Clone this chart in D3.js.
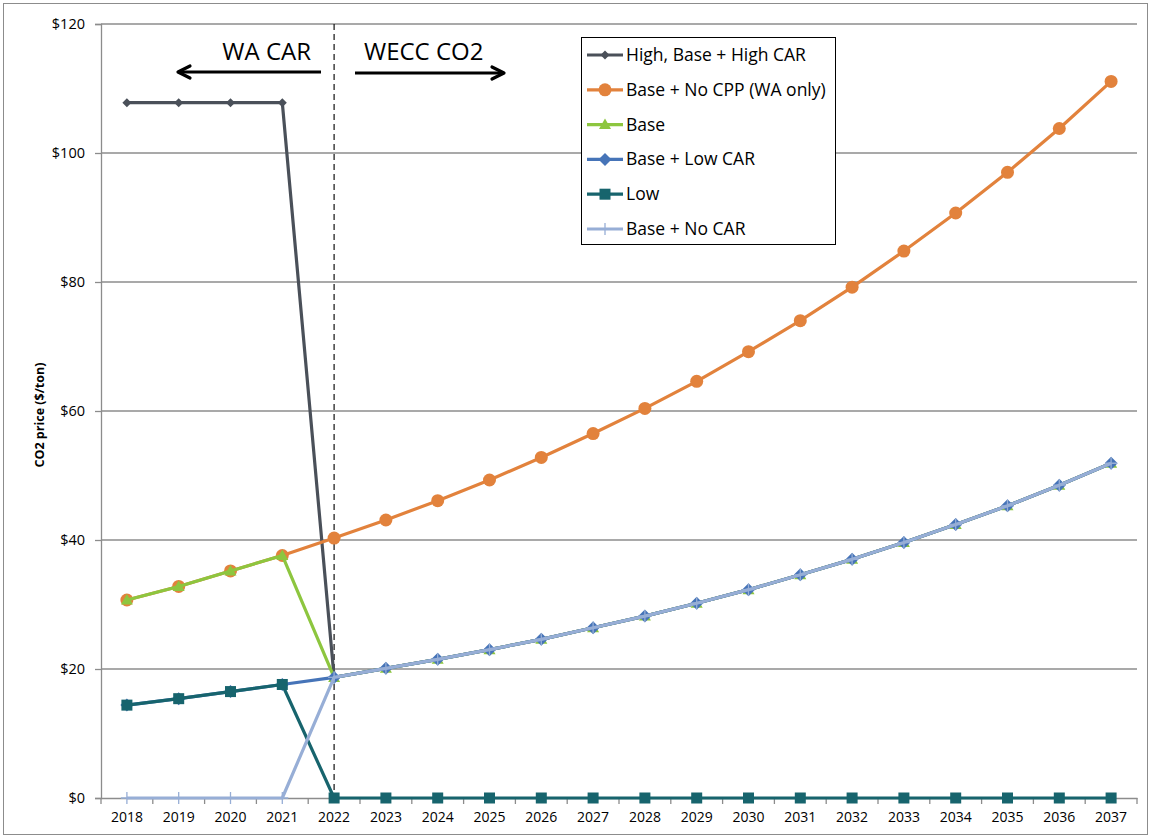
<!DOCTYPE html>
<html><head><meta charset="utf-8">
<script src="https://cdn.jsdelivr.net/npm/d3@7"></script>
<style>body{margin:0;background:#fff;} svg{display:block;}</style>
</head><body>
<script>
const years = ["2018","2019","2020","2021","2022","2023","2024","2025","2026","2027","2028","2029","2030","2031","2032","2033","2034","2035","2036","2037"];
const yTicks = [0,20,40,60,80,100,120];
const highCAR   = [107.8,107.8,107.8,107.8,18.7,20.1,21.5,23.0,24.6,26.4,28.2,30.2,32.3,34.6,37.0,39.6,42.4,45.3,48.5,51.9];
const noCPP     = [30.7,32.8,35.2,37.6,40.3,43.1,46.1,49.3,52.8,56.5,60.4,64.6,69.2,74.0,79.2,84.8,90.7,97.0,103.8,111.1];
const base      = [30.7,32.8,35.2,37.6,18.7,20.1,21.5,23.0,24.6,26.4,28.2,30.2,32.3,34.6,37.0,39.6,42.4,45.3,48.5,51.9];
const baseLowCAR= [14.4,15.4,16.5,17.6,18.7,20.1,21.5,23.0,24.6,26.4,28.2,30.2,32.3,34.6,37.0,39.6,42.4,45.3,48.5,51.9];
const low       = [14.4,15.4,16.5,17.6,0,0,0,0,0,0,0,0,0,0,0,0,0,0,0,0];
const baseNoCAR = [0,0,0,0,18.7,20.1,21.5,23.0,24.6,26.4,28.2,30.2,32.3,34.6,37.0,39.6,42.4,45.3,48.5,51.9];

const series = [
  {name:"High, Base + High CAR", values:highCAR, color:"#4a5059", marker:"diamondSmall"},
  {name:"Base + No CPP (WA only)", values:noCPP, color:"#e2823c", marker:"circle"},
  {name:"Base", values:base, color:"#8dc63f", marker:"triangle"},
  {name:"Base + Low CAR", values:baseLowCAR, color:"#4674b8", marker:"diamond"},
  {name:"Low", values:low, color:"#17646d", marker:"square"},
  {name:"Base + No CAR", values:baseNoCAR, color:"#97aed6", marker:"plus"}
];

const W=1151,H=838;
const svg=d3.select("body").append("svg").attr("width",W).attr("height",H);
const font="'Open Sans', 'Noto Sans', sans-serif";

svg.append("rect").attr("x",3.5).attr("y",3.5).attr("width",1144).attr("height",831)
  .attr("fill","#fff").attr("stroke","#8c8c8c");

const pL=101,pR=1137,pT=24,pB=798;
const x=d3.scaleBand().domain(years).range([pL,pR]);
const y=d3.scaleLinear().domain([0,120]).range([pB,pT]);
const cx=d=>x(d)+x.bandwidth()/2;

// gridlines
svg.append("g").selectAll("line").data(yTicks.filter(t=>t>0)).join("line")
  .attr("x1",pL).attr("x2",pR).attr("y1",d=>y(d)).attr("y2",d=>y(d))
  .attr("stroke","#8c8c8c").attr("stroke-width",1.3);

// y axis
const ya=svg.append("g").attr("transform",`translate(${pL},0)`)
  .call(d3.axisLeft(y).tickValues(yTicks).tickFormat(d=>"$"+d).tickSize(6).tickPadding(10));
ya.select(".domain").attr("stroke","#8c8c8c").attr("stroke-width",1.3);
ya.selectAll(".tick line").attr("stroke","#8c8c8c").attr("stroke-width",1.3);
ya.selectAll("text").attr("font-family",font).attr("font-size",14.5).attr("fill","#000");

// x axis
const xa=svg.append("g").attr("transform",`translate(0,${pB})`)
  .call(d3.axisBottom(x).tickSize(0).tickPadding(14));
xa.select(".domain").attr("stroke","#8c8c8c").attr("stroke-width",1.3);
xa.selectAll("text").attr("font-family",font).attr("font-size",14).attr("fill","#000");
svg.append("g").selectAll("line").data(years.concat(["end"])).join("line")
  .attr("x1",(d,i)=>pL+i*x.bandwidth()).attr("x2",(d,i)=>pL+i*x.bandwidth())
  .attr("y1",pB).attr("y2",pB+6).attr("stroke","#8c8c8c").attr("stroke-width",1.3);

// y label
svg.append("text").attr("transform",`translate(44,415) rotate(-90)`)
  .attr("text-anchor","middle").attr("font-family",font).attr("font-weight","bold")
  .attr("font-size",12.5).text("CO2 price ($/ton)");

// dashed divider at 2022
svg.append("line").attr("x1",cx("2022")).attr("x2",cx("2022")).attr("y1",pT).attr("y2",pB)
  .attr("stroke","#111").attr("stroke-width",1.2).attr("stroke-dasharray","6,4");

// series
function drawMarker(g,type,color,px,py){
  if(type==="circle") g.append("circle").attr("cx",px).attr("cy",py).attr("r",6.5).attr("fill",color);
  else if(type==="triangle") g.append("path").attr("d",`M${px},${py-6}L${px+6},${py+4.5}L${px-6},${py+4.5}Z`).attr("fill",color);
  else if(type==="diamond") g.append("path").attr("d",`M${px},${py-6.5}L${px+6.5},${py}L${px},${py+6.5}L${px-6.5},${py}Z`).attr("fill",color);
  else if(type==="diamondSmall") g.append("path").attr("d",`M${px},${py-4.5}L${px+4.5},${py}L${px},${py+4.5}L${px-4.5},${py}Z`).attr("fill",color);
  else if(type==="square") g.append("rect").attr("x",px-5.5).attr("y",py-5.5).attr("width",11).attr("height",11).attr("fill",color);
  else if(type==="plus") g.append("path").attr("d",`M${px},${py-6}V${py+6}M${px-6},${py}H${px+6}`).attr("stroke",color).attr("stroke-width",1.3);
}
const line=d3.line().x((d,i)=>cx(years[i])).y(d=>y(d));
series.forEach(s=>{
  const g=svg.append("g");
  g.append("path").attr("d",line(s.values)).attr("fill","none").attr("stroke",s.color)
    .attr("stroke-width",3.2).attr("stroke-linejoin","round");
  s.values.forEach((v,i)=>drawMarker(g,s.marker,s.color,cx(years[i]),y(v)));
});

// annotations
svg.append("text").attr("x",311).attr("y",60).attr("text-anchor","end").attr("font-family",font)
  .attr("font-size",24).text("WA CAR");
svg.append("text").attr("x",364).attr("y",60).attr("text-anchor","start").attr("font-family",font)
  .attr("font-size",24).text("WECC CO2");
function arrow(x1,x2,yy){
  svg.append("line").attr("x1",x1).attr("x2",x2).attr("y1",yy).attr("y2",yy).attr("stroke","#000").attr("stroke-width",3.2);
  const d=x2>x1?-1:1;
  svg.append("path").attr("d",`M${x2+d*12},${yy-6}L${x2},${yy}L${x2+d*12},${yy+6}`)
    .attr("fill","none").attr("stroke","#000").attr("stroke-width",3.2).attr("stroke-linejoin","round").attr("stroke-linecap","round");
}
arrow(321,178,72);
arrow(355,504,73);

// legend
const lg=svg.append("g");
lg.append("rect").attr("x",581.5).attr("y",37.5).attr("width",254).attr("height",207)
  .attr("fill","#fff").attr("stroke","#000").attr("stroke-width",1);
series.forEach((s,i)=>{
  const ly=55+i*34.8;
  lg.append("line").attr("x1",587).attr("x2",623).attr("y1",ly).attr("y2",ly)
    .attr("stroke",s.color).attr("stroke-width",3.2);
  drawMarker(lg,s.marker,s.color,605,ly);
  lg.append("text").attr("x",626).attr("y",ly+6).attr("font-family",font).attr("font-size",17.5).text(s.name);
});
</script>
</body></html>
